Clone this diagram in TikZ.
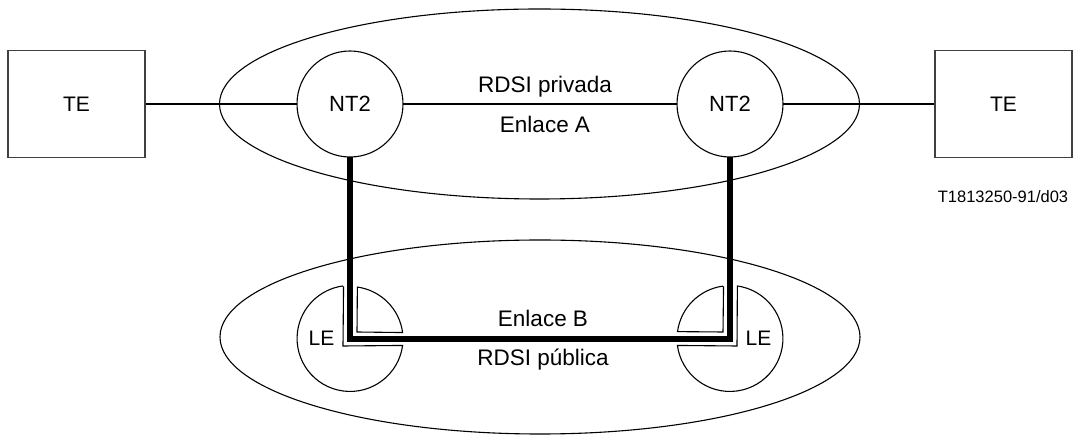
\documentclass[tikz,border=0pt]{standalone}
\usepackage{fontspec}
\setmainfont{Liberation Sans}
\usetikzlibrary{shapes.geometric}
\begin{document}
\begin{tikzpicture}[x=1pt,y=1pt,
  thin line/.style={line width=1.1pt},
  terminal/.style={draw=black!75, line width=1.2pt, minimum width=137pt, minimum height=107pt, inner sep=0pt, font=\fontsize{21}{25}\selectfont},
  exchange/.style={circle, draw, thin line, minimum size=106pt, inner sep=0pt, outer sep=0pt, font=\fontsize{22}{26}\selectfont},
  cut/.style={circle, minimum size=106pt, inner sep=0pt, outer sep=0pt},
  network/.style={ellipse, draw, thin line, inner sep=0pt, outer sep=0pt},
  txt/.style={font=\fontsize{22.5}{26}\selectfont, inner sep=0pt},
  letxt/.style={font=\fontsize{21}{25}\selectfont, inner sep=0pt},
  trunk/.style={line width=6pt, line join=miter}]
\useasboundingbox (0,0) rectangle (1075,441);

% networks
\node[network, minimum width=640pt, minimum height=190pt] (priv) at (539.5,337) {};
\node[network, minimum width=640pt, minimum height=194pt] (pub) at (540,104) {};

% terminals and NT2
\node[terminal] (te1) at (76.5,337) {TE};
\node[terminal] (te2) at (1003.5,337) {TE};
\node[exchange] (nt1) at (350,337) {NT2};
\node[exchange] (nt2) at (730,337) {NT2};

\draw[thin line] (te1) -- (nt1) -- (nt2) -- (te2);

\node[txt] (lpriv) at (545,354) {RDSI privada};
\node[txt] (lenla) at (545,317) {Enlace A};
\node[txt] (lenlb) at (543,123) {Enlace B};
\node[txt] (lpub) at (543,81) {RDSI pública};
\node[font=\fontsize{16.5}{20}\selectfont, inner sep=0pt] (ref) at (1003,244) {T1813250-91/d03};

% local exchanges, split along the trunk path
\node[cut] (le1) at (350,102) {};
\node[cut] (le2) at (730,102) {};
\node[letxt] at (321.5,103) {LE};
\node[letxt] at (758.5,103) {LE};

\coordinate (q1) at (357,109);
\coordinate (b1) at (343,95);
\coordinate (q2) at (723,109);
\coordinate (b2) at (737,95);

\draw[thin line] (le1.82.4) -- (q1) -- (le1.7.6) arc[start angle=7.6, end angle=82.4, radius=53];
\draw[thin line] (le1.97.6) -- (b1) -- (le1.-7.6) arc[start angle=-7.6, end angle=-262.4, radius=53];
\draw[thin line] (le2.97.6) -- (q2) -- (le2.172.4) arc[start angle=172.4, end angle=97.6, radius=53];
\draw[thin line] (le2.82.4) -- (b2) -- (le2.187.6) arc[start angle=187.6, end angle=442.4, radius=53];

% trunk between the NT2s through the public network
\draw[trunk] (nt1.south) |- (le1.center) -- (le2.center) -| (nt2.south);
\end{tikzpicture}
\end{document}
